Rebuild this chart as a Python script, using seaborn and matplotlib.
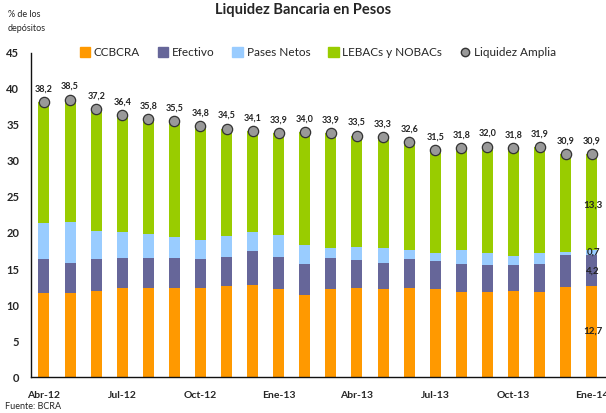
import numpy as np
import pandas as pd
import matplotlib
matplotlib.use("Agg")
import matplotlib.pyplot as plt
from matplotlib.lines import Line2D
from matplotlib.patches import Patch
import seaborn as sns

# data (% of deposits)
months = ["Abr-12", "May-12", "Jun-12", "Jul-12", "Ago-12", "Sep-12", "Oct-12", "Nov-12",
          "Dic-12", "Ene-13", "Feb-13", "Mar-13", "Abr-13", "May-13", "Jun-13", "Jul-13",
          "Ago-13", "Sep-13", "Oct-13", "Nov-13", "Dic-13", "Ene-14"]
ccbcra   = [11.7, 11.7, 11.9, 12.4, 12.4, 12.4, 12.4, 12.6, 12.8, 12.2, 11.4,
            12.2, 12.4, 12.2, 12.4, 12.2, 11.8, 11.8, 11.9, 11.8, 12.5, 12.7]
efectivo = [4.7, 4.1, 4.5, 4.1, 4.1, 4.1, 4.0, 4.1, 4.7, 4.5, 4.3,
            4.3, 3.8, 3.6, 4.0, 3.9, 3.9, 3.8, 3.7, 3.9, 4.4, 4.2]
pases    = [5.0, 5.7, 3.9, 3.6, 3.4, 2.9, 2.6, 2.9, 2.6, 3.0, 2.6,
            1.4, 1.8, 2.1, 1.2, 1.1, 1.9, 1.6, 1.2, 1.5, 0.5, 0.7]
amplia   = [38.2, 38.5, 37.2, 36.4, 35.8, 35.5, 34.8, 34.5, 34.1, 33.9, 34.0,
            33.9, 33.5, 33.3, 32.6, 31.5, 31.8, 32.0, 31.8, 31.9, 30.9, 30.9]
tick_months = ["Abr-12", "Jul-12", "Oct-12", "Ene-13", "Abr-13", "Jul-13", "Oct-13", "Ene-14"]

C_ORANGE = "#FF9900"; C_PURPLE = "#666699"; C_BLUE = "#99CCFF"; C_GREEN = "#99CC00"

sns.set_style("white")
plt.rcParams["font.family"] = ["Lato", "DejaVu Sans"]

df = pd.DataFrame({"mes": months, "ccbcra": ccbcra, "efectivo": efectivo,
                   "pases": pases, "amplia": amplia})
df["c1"] = df["ccbcra"]
df["c2"] = df["c1"] + df["efectivo"]
df["c3"] = df["c2"] + df["pases"]
df["lebac"] = df["amplia"] - df["c3"]

fig = plt.figure(figsize=(6.06, 4.13), dpi=100)
ax = fig.add_axes([0.051, 0.087, 0.947, 0.785])

# stacked bars: draw cumulative heights, tallest first
for col, c in [("amplia", C_GREEN), ("c3", C_BLUE), ("c2", C_PURPLE), ("c1", C_ORANGE)]:
    sns.barplot(data=df, x="mes", y=col, color=c, width=0.42, ax=ax,
                saturation=1, errorbar=None, linewidth=0)

xs = np.arange(len(months))
sns.scatterplot(x=xs, y=df["amplia"], ax=ax, s=55, color="#999999",
                edgecolor="#333333", linewidth=0.9, zorder=5)

for x, v in zip(xs, amplia):
    ax.text(x, v + 1.2, f"{v:.1f}".replace(".", ","), ha="center", va="bottom",
            fontsize=6.5, fontweight="bold", color="#222222")

# labels on the last bar
last = len(months) - 1
lab_y = [(df["c1"][last] / 2, ccbcra[last]),
         (df["c2"][last] - 2.2, efectivo[last]),
         (df["c3"][last] - 0.2, pases[last]),
         (amplia[last] - 7.0, df["lebac"][last])]
for y, v in lab_y:
    ax.text(last + 0.05, y, f"{v:.1f}".replace(".", ","), ha="center", va="center",
            fontsize=7, fontweight="bold", color="#222222")

ax.set_xlim(-0.5, len(months) - 0.5)
ax.set_ylim(0, 45)
ax.set_yticks(range(0, 46, 5))
ax.set_xticks([months.index(m) for m in tick_months])
ax.set_xticklabels(tick_months)
ax.set_xticks(xs[:-1] + 0.5, minor=True)
ax.tick_params(axis="x", which="major", length=0, pad=10, labelsize=7.5)
ax.tick_params(axis="x", which="minor", direction="in", length=4, width=0.8, color="#222222")
ax.tick_params(axis="y", direction="inout", length=5, width=0.8, labelsize=8, pad=6)
for lbl in ax.get_xticklabels() + ax.get_yticklabels():
    lbl.set_fontweight("bold")
ax.set_xlabel(""); ax.set_ylabel("")
for s in ["top", "right"]:
    ax.spines[s].set_visible(False)
for s in ["left", "bottom"]:
    ax.spines[s].set_color("#111111"); ax.spines[s].set_linewidth(1.0)

handles = [Patch(color=C_ORANGE, label="CCBCRA"),
           Patch(color=C_PURPLE, label="Efectivo"),
           Patch(color=C_BLUE, label="Pases Netos"),
           Patch(color=C_GREEN, label="LEBACs y NOBACs"),
           Line2D([], [], marker="o", ls="", markersize=6, markerfacecolor="#999999",
                  markeredgecolor="#333333", label="Liquidez Amplia")]
ax.legend(handles=handles, loc="center", bbox_to_anchor=(0.5, 1.0), ncol=5,
          frameon=False, fontsize=8.5, handlelength=0.9, handleheight=0.9,
          handletextpad=0.3, columnspacing=1.5)

fig.text(0.5, 0.975, "Liquidez Bancaria en Pesos", ha="center", va="center",
         fontsize=10.5, fontweight="bold")
fig.text(0.013, 0.965, "% de los", fontsize=6.5, va="center")
fig.text(0.013, 0.93, "depósitos", fontsize=6.5, va="center")
fig.text(0.008, 0.016, "Fuente: BCRA", fontsize=6.5, va="center")

fig.savefig("out.png", dpi=100)
